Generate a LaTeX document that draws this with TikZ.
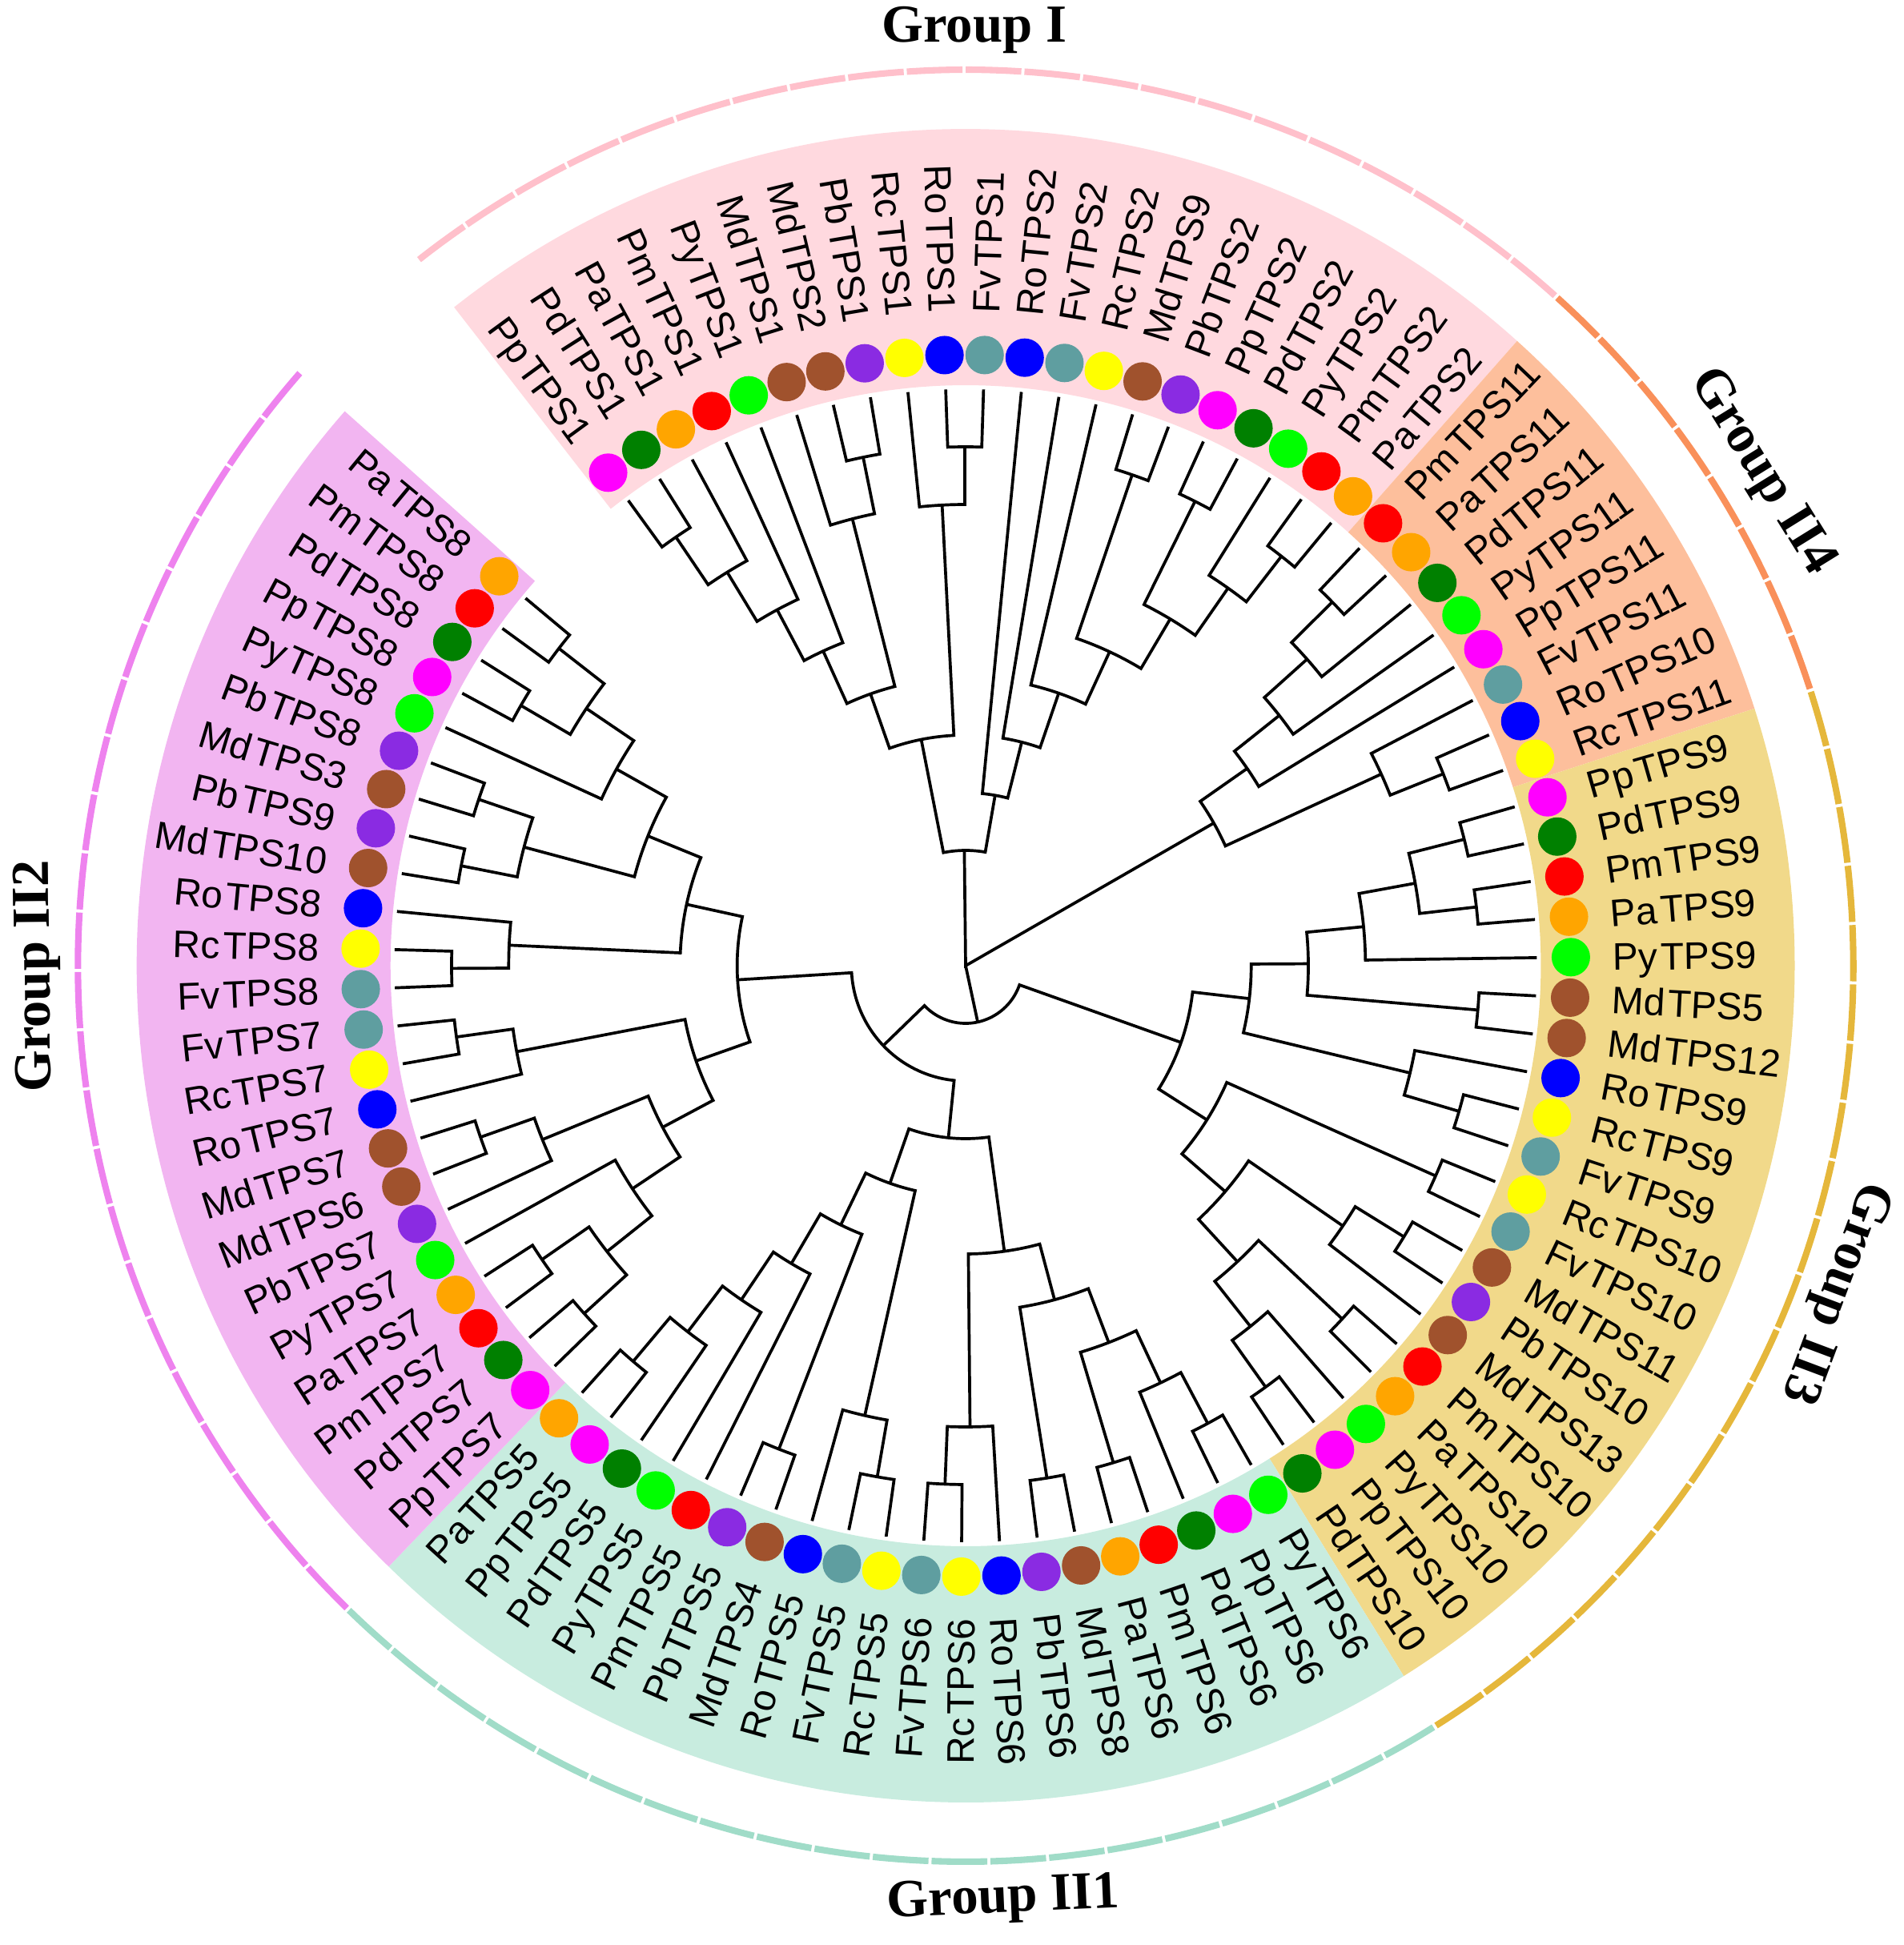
\documentclass[tikz,border=0pt]{standalone}
\usepackage{fontspec}
\setmainfont{Liberation Sans}
\newfontfamily\groupfont{Liberation Serif}

% species colours
\definecolor{pp}{HTML}{FF00FF}
\definecolor{pd}{HTML}{008000}
\definecolor{pa}{HTML}{FFA500}
\definecolor{pm}{HTML}{FF0000}
\definecolor{py}{HTML}{00FF00}
\definecolor{md}{HTML}{A0522D}
\definecolor{pb}{HTML}{8A2BE2}
\definecolor{rc}{HTML}{FFFF00}
\definecolor{ro}{HTML}{0000FF}
\definecolor{fv}{HTML}{5F9EA0}
% group colours
\definecolor{bandI}{HTML}{FFD9DF}
\definecolor{ringI}{HTML}{FFC0CB}
\definecolor{bandIV}{HTML}{FDBF9C}
\definecolor{ringIV}{HTML}{F9905A}
\definecolor{bandIII}{HTML}{F1D98A}
\definecolor{ringIII}{HTML}{E5B73B}
\definecolor{bandi}{HTML}{C8ECDF}
\definecolor{ringi}{HTML}{A0DCC8}
\definecolor{bandii}{HTML}{F2B5F1}
\definecolor{ringii}{HTML}{EE82EE}

% species prefix and gene name
\def\splitleaf#1#2#3\relax{#1#2\kern0.08em#3}

% leaf: index, name, colour
\newcommand\leaf[3]{%
  \pgfmathsetmacro\leafang{126.2-3.8*#1}%
  \expandafter\xdef\csname ang#2\endcsname{\leafang}%
  \expandafter\xdef\csname hgt#2\endcsname{0}%
  \coordinate (p#2) at (\leafang:720);
  \node[leafdot,fill=#3] (d#2) at (\leafang:763) {};
  \ifdim\leafang pt>90pt
    \node[leafname,anchor=east,rotate=\leafang+180] (#2) at (\leafang:815) {\splitleaf#2\relax};
  \else\ifdim\leafang pt<-90pt
    \node[leafname,anchor=east,rotate=\leafang+180] (#2) at (\leafang:815) {\splitleaf#2\relax};
  \else
    \node[leafname,anchor=west,rotate=\leafang] (#2) at (\leafang:815) {\splitleaf#2\relax};
  \fi\fi
}

% clade: name, child, child
\newcommand\clade[3]{%
  \edef\angA{\csname ang#2\endcsname}%
  \edef\angB{\csname ang#3\endcsname}%
  \edef\hgtA{\csname hgt#2\endcsname}%
  \edef\hgtB{\csname hgt#3\endcsname}%
  \pgfmathsetmacro\hgtN{max(\hgtA,\hgtB)+1}%
  \pgfmathsetmacro\radN{720-72*\hgtN}%
  \pgfmathsetmacro\angN{(\angA+\angB)/2}%
  \expandafter\xdef\csname ang#1\endcsname{\angN}%
  \expandafter\xdef\csname hgt#1\endcsname{\hgtN}%
  \coordinate (p#1) at (\angN:\radN);
  \draw[branch] (p#2) -- (\angA:\radN) arc[start angle=\angA,end angle=\angB,radius=\radN] -- (p#3);
}

% band and outer ring: first, last, band colour, ring colour
\newcommand\groupband[4]{%
  \pgfmathsetmacro\bandA{126.2-3.8*#1+1.9}%
  \pgfmathsetmacro\bandB{126.2-3.8*#2-1.9}%
  \fill[#3] (\bandA:725) arc[start angle=\bandA,end angle=\bandB,radius=725]
    -- (\bandB:1045) arc[start angle=\bandB,end angle=\bandA,radius=1045] -- cycle;
  \foreach \i in {#1,...,#2}{%
    \pgfmathsetmacro\segA{126.2-3.8*\i+1.8}%
    \pgfmathsetmacro\segB{126.2-3.8*\i-1.8}%
    \draw[ringseg,#4] (\segA:1119) arc[start angle=\segA,end angle=\segB,radius=1119];
  }
}

\begin{document}
\begin{tikzpicture}[x=0.0099cm,y=0.01cm]
  \tikzstyle{branch}=[line width=1.05pt]
  \tikzstyle{ringseg}=[line width=2.3pt]
  \tikzstyle{leafdot}=[circle,inner sep=0pt,minimum size=0.48cm]
  \tikzstyle{leafname}=[inner sep=0pt,text height=9.8pt,text depth=0pt,font=\fontsize{13.6}{16}\selectfont]
  \tikzstyle{grouplabel}=[font=\groupfont\bfseries\fontsize{19}{23}\selectfont]
  \useasboundingbox (-1217.2,-1223) rectangle (1182.8,1206);
  % bands and outer ring
  \groupband{0}{20}{bandI}{ringI}
  \groupband{21}{28}{bandIV}{ringIV}
  \groupband{29}{48}{bandIII}{ringIII}
  \groupband{49}{68}{bandi}{ringi}
  \groupband{69}{91}{bandii}{ringii}
  % Group I leaves
  \leaf{0}{PpTPS1}{pp}
  \leaf{1}{PdTPS1}{pd}
  \leaf{2}{PaTPS1}{pa}
  \leaf{3}{PmTPS1}{pm}
  \leaf{4}{PyTPS1}{py}
  \leaf{5}{MdTPS1}{md}
  \leaf{6}{MdTPS2}{md}
  \leaf{7}{PbTPS1}{pb}
  \leaf{8}{RcTPS1}{rc}
  \leaf{9}{RoTPS1}{ro}
  \leaf{10}{FvTPS1}{fv}
  \leaf{11}{RoTPS2}{ro}
  \leaf{12}{FvTPS2}{fv}
  \leaf{13}{RcTPS2}{rc}
  \leaf{14}{MdTPS9}{md}
  \leaf{15}{PbTPS2}{pb}
  \leaf{16}{PpTPS2}{pp}
  \leaf{17}{PdTPS2}{pd}
  \leaf{18}{PyTPS2}{py}
  \leaf{19}{PmTPS2}{pm}
  \leaf{20}{PaTPS2}{pa}
  % Group II4 leaves
  \leaf{21}{PmTPS11}{pm}
  \leaf{22}{PaTPS11}{pa}
  \leaf{23}{PdTPS11}{pd}
  \leaf{24}{PyTPS11}{py}
  \leaf{25}{PpTPS11}{pp}
  \leaf{26}{FvTPS11}{fv}
  \leaf{27}{RoTPS10}{ro}
  \leaf{28}{RcTPS11}{rc}
  % Group II3 leaves
  \leaf{29}{PpTPS9}{pp}
  \leaf{30}{PdTPS9}{pd}
  \leaf{31}{PmTPS9}{pm}
  \leaf{32}{PaTPS9}{pa}
  \leaf{33}{PyTPS9}{py}
  \leaf{34}{MdTPS5}{md}
  \leaf{35}{MdTPS12}{md}
  \leaf{36}{RoTPS9}{ro}
  \leaf{37}{RcTPS9}{rc}
  \leaf{38}{FvTPS9}{fv}
  \leaf{39}{RcTPS10}{rc}
  \leaf{40}{FvTPS10}{fv}
  \leaf{41}{MdTPS11}{md}
  \leaf{42}{PbTPS10}{pb}
  \leaf{43}{MdTPS13}{md}
  \leaf{44}{PmTPS10}{pm}
  \leaf{45}{PaTPS10}{pa}
  \leaf{46}{PyTPS10}{py}
  \leaf{47}{PpTPS10}{pp}
  \leaf{48}{PdTPS10}{pd}
  % Group II1 leaves
  \leaf{49}{PyTPS6}{py}
  \leaf{50}{PpTPS6}{pp}
  \leaf{51}{PdTPS6}{pd}
  \leaf{52}{PmTPS6}{pm}
  \leaf{53}{PaTPS6}{pa}
  \leaf{54}{MdTPS8}{md}
  \leaf{55}{PbTPS6}{pb}
  \leaf{56}{RoTPS6}{ro}
  \leaf{57}{RcTPS6}{rc}
  \leaf{58}{FvTPS6}{fv}
  \leaf{59}{RcTPS5}{rc}
  \leaf{60}{FvTPS5}{fv}
  \leaf{61}{RoTPS5}{ro}
  \leaf{62}{MdTPS4}{md}
  \leaf{63}{PbTPS5}{pb}
  \leaf{64}{PmTPS5}{pm}
  \leaf{65}{PyTPS5}{py}
  \leaf{66}{PdTPS5}{pd}
  \leaf{67}{PpTPS5}{pp}
  \leaf{68}{PaTPS5}{pa}
  % Group II2 leaves
  \leaf{69}{PpTPS7}{pp}
  \leaf{70}{PdTPS7}{pd}
  \leaf{71}{PmTPS7}{pm}
  \leaf{72}{PaTPS7}{pa}
  \leaf{73}{PyTPS7}{py}
  \leaf{74}{PbTPS7}{pb}
  \leaf{75}{MdTPS6}{md}
  \leaf{76}{MdTPS7}{md}
  \leaf{77}{RoTPS7}{ro}
  \leaf{78}{RcTPS7}{rc}
  \leaf{79}{FvTPS7}{fv}
  \leaf{80}{FvTPS8}{fv}
  \leaf{81}{RcTPS8}{rc}
  \leaf{82}{RoTPS8}{ro}
  \leaf{83}{MdTPS10}{md}
  \leaf{84}{PbTPS9}{pb}
  \leaf{85}{MdTPS3}{md}
  \leaf{86}{PbTPS8}{pb}
  \leaf{87}{PyTPS8}{py}
  \leaf{88}{PpTPS8}{pp}
  \leaf{89}{PdTPS8}{pd}
  \leaf{90}{PmTPS8}{pm}
  \leaf{91}{PaTPS8}{pa}
  % tree: Group I
  \clade{a1}{PpTPS1}{PdTPS1}
  \clade{a2}{a1}{PaTPS1}
  \clade{a3}{a2}{PmTPS1}
  \clade{a4}{a3}{PyTPS1}
  \clade{a5}{MdTPS2}{PbTPS1}
  \clade{a6}{MdTPS1}{a5}
  \clade{a7}{a4}{a6}
  \clade{a8}{RoTPS1}{FvTPS1}
  \clade{a9}{RcTPS1}{a8}
  \clade{a10}{a7}{a9}
  \clade{b1}{PmTPS2}{PaTPS2}
  \clade{b2}{PyTPS2}{b1}
  \clade{b3}{PpTPS2}{PdTPS2}
  \clade{b4}{b3}{b2}
  \clade{b5}{MdTPS9}{PbTPS2}
  \clade{b6}{b5}{b4}
  \clade{b7}{RcTPS2}{b6}
  \clade{b8}{FvTPS2}{b7}
  \clade{b9}{RoTPS2}{b8}
  \clade{groupI}{a10}{b9}
  % tree: Group II4
  \clade{c1}{PmTPS11}{PaTPS11}
  \clade{c2}{c1}{PdTPS11}
  \clade{c3}{c2}{PyTPS11}
  \clade{c4}{c3}{PpTPS11}
  \clade{c5}{RoTPS10}{RcTPS11}
  \clade{c6}{FvTPS11}{c5}
  \clade{groupIIiv}{c4}{c6}
  % tree: Group II3
  \clade{d1}{PpTPS9}{PdTPS9}
  \clade{d2}{PmTPS9}{PaTPS9}
  \clade{d3}{d1}{d2}
  \clade{d4}{d3}{PyTPS9}
  \clade{d5}{MdTPS5}{MdTPS12}
  \clade{d6}{d4}{d5}
  \clade{d7}{RcTPS9}{FvTPS9}
  \clade{d8}{RoTPS9}{d7}
  \clade{d9}{d6}{d8}
  \clade{d10}{RcTPS10}{FvTPS10}
  \clade{d11}{MdTPS11}{PbTPS10}
  \clade{d12}{d11}{MdTPS13}
  \clade{d13}{PmTPS10}{PaTPS10}
  \clade{d14}{PpTPS10}{PdTPS10}
  \clade{d15}{PyTPS10}{d14}
  \clade{d16}{d13}{d15}
  \clade{d17}{d12}{d16}
  \clade{d18}{d10}{d17}
  \clade{groupIIiii}{d9}{d18}
  % tree: Group II1
  \clade{e1}{FvTPS6}{RcTPS6}
  \clade{e2}{e1}{RoTPS6}
  \clade{e3}{PbTPS6}{MdTPS8}
  \clade{e4}{PaTPS6}{PmTPS6}
  \clade{e5}{PpTPS6}{PyTPS6}
  \clade{e6}{PdTPS6}{e5}
  \clade{e7}{e4}{e6}
  \clade{e8}{e3}{e7}
  \clade{e9}{e2}{e8}
  \clade{f1}{FvTPS5}{RcTPS5}
  \clade{f2}{RoTPS5}{f1}
  \clade{f3}{PbTPS5}{MdTPS4}
  \clade{f4}{PpTPS5}{PaTPS5}
  \clade{f5}{f4}{PdTPS5}
  \clade{f6}{f5}{PyTPS5}
  \clade{f7}{f6}{PmTPS5}
  \clade{f8}{f7}{f3}
  \clade{f9}{f8}{f2}
  \clade{groupIIi}{f9}{e9}
  % tree: Group II2
  \clade{g1}{PmTPS8}{PaTPS8}
  \clade{g2}{PpTPS8}{PdTPS8}
  \clade{g3}{g2}{g1}
  \clade{g4}{PyTPS8}{g3}
  \clade{g5}{MdTPS10}{PbTPS9}
  \clade{g6}{MdTPS3}{PbTPS8}
  \clade{g7}{g5}{g6}
  \clade{g8}{g7}{g4}
  \clade{g9}{RcTPS8}{FvTPS8}
  \clade{g10}{RoTPS8}{g9}
  \clade{g11}{g10}{g8}
  \clade{h1}{FvTPS7}{RcTPS7}
  \clade{h2}{h1}{RoTPS7}
  \clade{h3}{MdTPS7}{MdTPS6}
  \clade{h4}{h3}{PbTPS7}
  \clade{h5}{PaTPS7}{PmTPS7}
  \clade{h6}{PdTPS7}{PpTPS7}
  \clade{h7}{h5}{h6}
  \clade{h8}{PyTPS7}{h7}
  \clade{h9}{h4}{h8}
  \clade{h10}{h2}{h9}
  \clade{groupIIii}{g11}{h10}
  % deeper nodes and root
  \clade{groupIIa}{groupIIi}{groupIIii}
  \clade{rest}{groupIIiii}{groupIIa}
  \coordinate (root) at (0,0);
  \draw[branch] (pgroupI) -- (root) -- (pgroupIIiv);
  \draw[branch] (root) -- (prest);
  % headers
  \node[grouplabel] (labI) at (11,1169) {Group I};
  \node[grouplabel,rotate=-58.2] (labIIiv) at (1003,616) {Group II4};
  \node[grouplabel,rotate=-110.6] (labIIiii) at (1095,-408) {Group II3};
  \node[grouplabel,rotate=2.5] (labIIi) at (47.5,-1167) {Group II1};
  \node[grouplabel,rotate=90.6] (labIIii) at (-1170,-13) {Group II2};
\end{tikzpicture}
\end{document}
